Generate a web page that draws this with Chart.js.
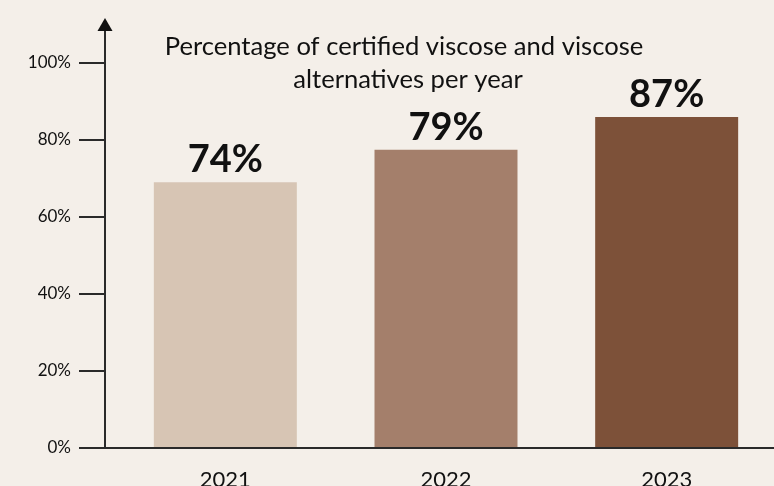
<!DOCTYPE html>
<html>
<head>
<meta charset="utf-8">
<script src="https://cdn.jsdelivr.net/npm/chart.js@4.4.1/dist/chart.umd.min.js"></script>
<style>
	html, body { margin: 0; padding: 0; background: #f4efe9; overflow: hidden; }
	canvas { display: block; }
</style>
</head>
<body>
<canvas id="chart" width="777" height="486"></canvas>
<script>
const years = ['2021', '2022', '2023'];
// bar heights as drawn (the printed labels differ a little)
const barValues = [69, 77.5, 86];
const valueLabels = ['74%', '79%', '87%'];
const barColors = ['#d7c5b4', '#a47f6b', '#7d5139'];
const yTicks = [0, 20, 40, 60, 80, 100];
const titleLines = ['Percentage of certified viscose and viscose', 'alternatives per year'];

const FONT = 'Lato, "DejaVu Sans", sans-serif';
const INK = '#2a2a2a';

const axesPlugin = {
	id: 'axesPlugin',
	afterDraw(chart) {
		const ctx = chart.ctx;
		const area = chart.chartArea;
		const y = chart.scales.y;
		const axisX = area.left - 10;
		ctx.save();
		ctx.strokeStyle = INK;
		ctx.lineWidth = 2;

		// y axis with arrow
		ctx.beginPath();
		ctx.moveTo(axisX, area.bottom);
		ctx.lineTo(axisX, 30);
		ctx.stroke();
		ctx.fillStyle = '#111';
		ctx.beginPath();
		ctx.moveTo(axisX, 18);
		ctx.lineTo(axisX - 7.5, 31);
		ctx.lineTo(axisX + 7.5, 31);
		ctx.closePath();
		ctx.fill();

		// tick marks
		yTicks.forEach(v => {
			const py = Math.round(y.getPixelForValue(v));
			ctx.beginPath();
			ctx.moveTo(axisX - 26, py);
			ctx.lineTo(axisX, py);
			ctx.stroke();
		});

		// x axis
		const by = Math.round(area.bottom);
		ctx.beginPath();
		ctx.moveTo(axisX, by);
		ctx.lineTo(chart.width, by);
		ctx.stroke();

		// value labels
		const meta = chart.getDatasetMeta(0);
		ctx.fillStyle = '#111';
		ctx.font = 'bold 38px ' + FONT;
		ctx.textAlign = 'center';
		ctx.textBaseline = 'alphabetic';
		meta.data.forEach((bar, i) => {
			ctx.fillText(valueLabels[i], bar.x, bar.y - 10);
		});

		// title
		ctx.font = '25.6px ' + FONT;
		ctx.fillText(titleLines[0], 404, 55);
		ctx.fillText(titleLines[1], 408, 88);
		ctx.restore();
	}
};

new Chart(document.getElementById('chart'), {
	type: 'bar',
	data: {
		labels: years,
		datasets: [{
			data: barValues,
			backgroundColor: barColors,
			borderWidth: 0,
			categoryPercentage: 1,
			barPercentage: 0.648
		}]
	},
	options: {
		responsive: false,
		animation: false,
		layout: { padding: { top: 63, right: 0, left: 0, bottom: 0 } },
		plugins: {
			legend: { display: false },
			tooltip: { enabled: false }
		},
		scales: {
			x: {
				grid: { display: false, drawTicks: false },
				border: { display: false },
				ticks: { color: '#111', padding: 19, font: { family: FONT, size: 22 } },
				afterFit: scale => { scale.height = 38; }
			},
			y: {
				min: 0,
				max: 100,
				grid: { display: false, drawTicks: false },
				border: { display: false },
				ticks: {
					stepSize: 20,
					padding: 44,
					color: '#111',
					font: { family: FONT, size: 17 },
					callback: v => v + '%'
				},
				afterFit: scale => {
					scale.width = 115;
					// the big label padding should not push the plot area in
					scale.paddingTop = 0;
					scale.paddingBottom = 0;
				}
			}
		}
	},
	plugins: [axesPlugin]
});
</script>
</body>
</html>
